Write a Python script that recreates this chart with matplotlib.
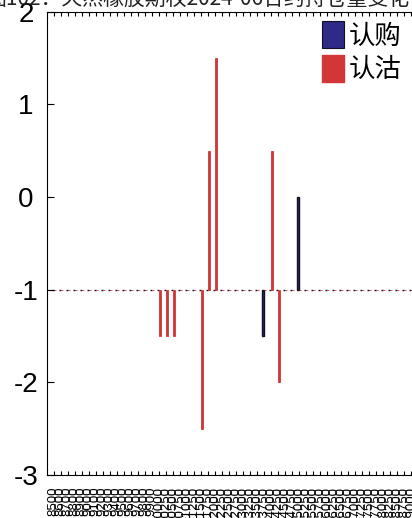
import numpy as np
import matplotlib
matplotlib.use("Agg")
import matplotlib.pyplot as plt
from matplotlib.patches import Patch

plt.rcParams['font.family'] = ['Liberation Sans', 'Noto Sans CJK SC', 'DejaVu Sans']
plt.rcParams['axes.unicode_minus'] = False

title = "图102：天然橡胶期权2024-06合约持仓量变化"

# strike prices on the x axis
strikes = [8500, 8600, 8700, 8800, 8900, 9000, 9100, 9200, 9300, 9400,
           9500, 9600, 9700, 9800, 9900,
           10000, 10250, 10500, 10750, 11000, 11250, 11500, 11750,
           12000, 12250, 12500, 12750, 13000, 13250, 13500, 13750,
           14000, 14250, 14500, 14750, 15000, 15250, 15500, 15750,
           16000, 16250, 16500, 16750, 17000, 17250, 17500, 17750,
           18000, 18250, 18500, 18750, 19000, 19250, 19500, 19750, 20000]

# open interest change (strikes not listed are 0)
call_strikes = [13750, 15000]
call_chg = [-0.5, 1.0]
put_strikes = [10000, 10250, 10500, 11500, 11750, 12000, 14000, 14250]
put_chg = [-0.5, -0.5, -0.5, -1.5, 1.5, 2.5, 1.5, -1.0]

base = -1
navy = '#2e2a88'
navy_edge = '#101020'
red = '#d23636'

x = np.arange(len(strikes))
calls = np.zeros(len(strikes))
puts = np.zeros(len(strikes))
for s, v in zip(call_strikes, call_chg):
    calls[strikes.index(s)] = v
for s, v in zip(put_strikes, put_chg):
    puts[strikes.index(s)] = v

W, H = 412, 518
fig = plt.figure(figsize=(W / 100, H / 100), dpi=100)
ax = fig.add_axes([46.7 / W, 1 - 475 / H, (len(strikes) + 1) * 7 / W, (475 - 11.7) / H])

ax.bar(x - 0.14, calls, width=0.28, bottom=base, color=navy, edgecolor=navy_edge, linewidth=1.0)
ax.bar(x + 0.14, puts, width=0.28, bottom=base, color=red, edgecolor=red, linewidth=0.6)

ax.set_xlim(-1, len(strikes))
ax.set_ylim(-3, 2)
ax.set_yticks([-3, -2, -1, 0, 1, 2])
ax.set_xticks(x)
ax.set_xticklabels([str(s) for s in strikes], rotation=90, fontsize=9.5)
ax.tick_params(axis='x', direction='in', top=True, length=3, width=0.8, pad=8)
ax.tick_params(axis='y', direction='in', right=True, length=5, width=0.8, labelsize=20, pad=15)
for lab in ax.get_yticklabels():
    lab.set_horizontalalignment('center')
for sp in ax.spines.values():
    sp.set_linewidth(0.8)

fig.legend(handles=[Patch(facecolor=navy, edgecolor=navy_edge, linewidth=0.8),
                    Patch(facecolor=red, edgecolor=red)],
           labels=['认购', '认沽'], loc='upper left',
           bbox_to_anchor=(322 / W, 1 - 21 / H), frameon=False,
           prop={'family': ['Noto Sans CJK SC'], 'size': 19},
           handlelength=0.85, handleheight=1.2, handletextpad=0.15,
           labelspacing=0.2, borderpad=0, borderaxespad=0)

fig.text(197 / W, 1 - 6 / H, title, ha='center', va='baseline', fontsize=15,
         color='#222222', family=['Noto Sans CJK SC', 'DejaVu Sans'])

fig.savefig("out.png", dpi=100)
